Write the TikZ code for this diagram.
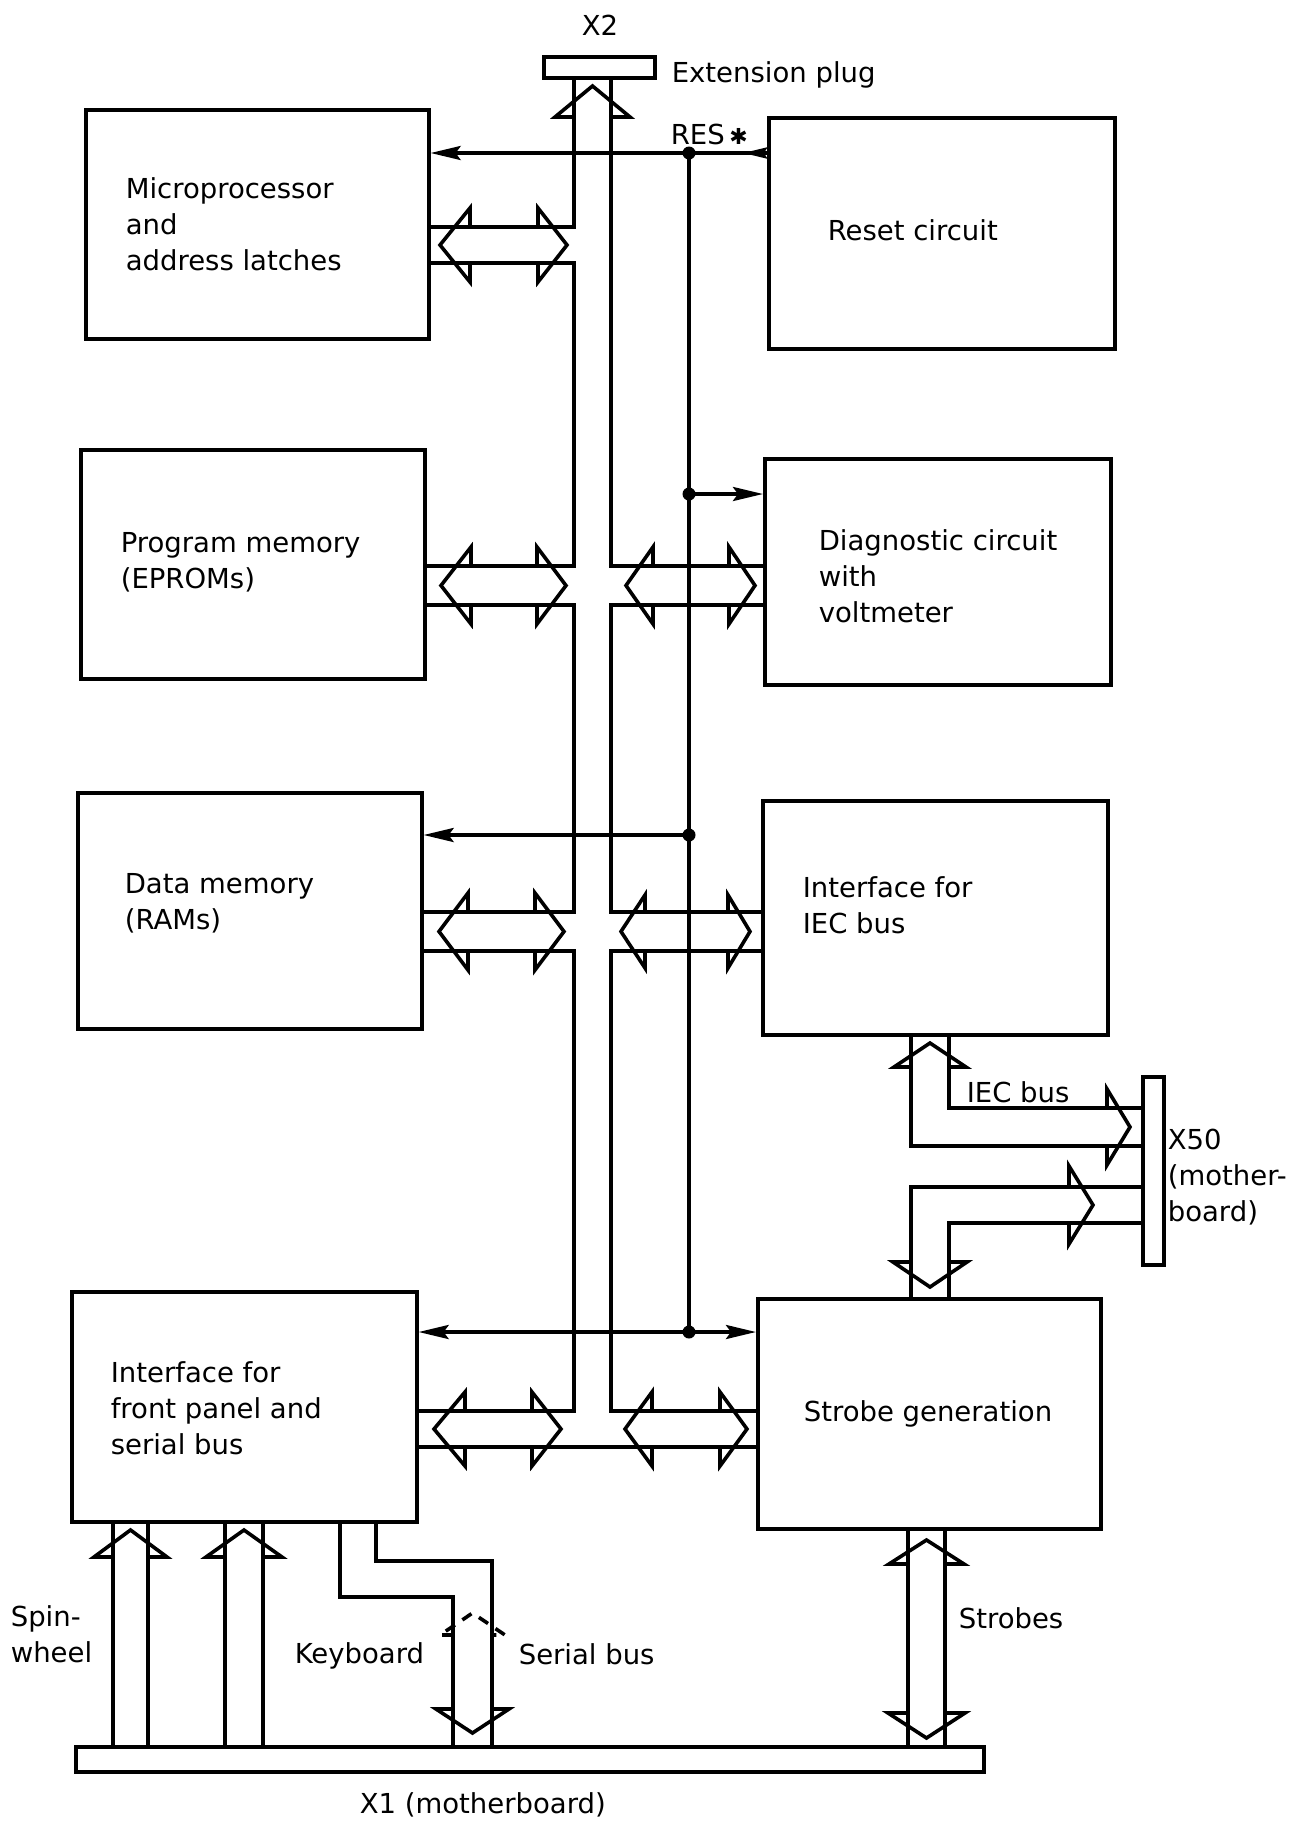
\documentclass[tikz,border=0pt]{standalone}
\usepackage{fontspec}
\setmainfont{DejaVu Sans}
\usetikzlibrary{arrows.meta}
\newcommand\lblfont{\fontsize{27.5}{36}\selectfont}
% horizontal bus arrow head: [opts]{tip x}{barb x}{y top}{y bottom}{overhang}
\newcommand\BusHeadH[6][]{\draw[#1] (#3,#4) -- (#3,{#4-#6}) -- (#2,{(#4+#5)/2}) -- (#3,{#5+#6}) -- (#3,#5);}
% vertical bus arrow head: [opts]{tip y}{barb y}{x left}{x right}{overhang}
\newcommand\BusHeadV[6][]{\draw[#1] (#4,#3) -- ({#4-#6},#3) -- ({(#4+#5)/2},#2) -- ({#5+#6},#3) -- (#5,#3);}
\begin{document}
\begin{tikzpicture}[x=1pt,y=-1pt,line width=3.6pt,
  blk/.style={draw, rectangle, line width=3.6pt, inner sep=0pt, anchor=north west},
  txt/.style={font=\lblfont, inner sep=0pt, align=left},
  dotn/.style={circle, fill, inner sep=0pt, minimum size=13pt},
  sig/.style={-{Stealth[length=30pt,width=14pt,inset=5pt]}}]
\useasboundingbox[fill=white] (0,0) rectangle (1302,1832);

% ---------- blocks ----------
\node[blk, minimum width=343pt, minimum height=229pt] (mp)     at (84,108)  {};
\node[blk, minimum width=346pt, minimum height=231pt] (reset)  at (767,116) {};
\node[blk, minimum width=344pt, minimum height=229pt] (prog)   at (79,448)  {};
\node[blk, minimum width=346pt, minimum height=226pt] (diag)   at (763,457) {};
\node[blk, minimum width=344pt, minimum height=236pt] (data)   at (76,791)  {};
\node[blk, minimum width=345pt, minimum height=234pt] (iec)    at (761,799) {};
\node[blk, minimum width=345pt, minimum height=230pt] (front)  at (70,1290) {};
\node[blk, minimum width=343pt, minimum height=230pt] (strobe) at (756,1297) {};
% connectors (bars)
\node[blk, minimum width=111pt, minimum height=21pt]  (x2)  at (542,55)   {};
\node[blk, minimum width=21pt,  minimum height=188pt] (x50) at (1141,1075) {};
\node[blk, minimum width=908pt, minimum height=25pt]  (x1)  at (74,1745)  {};

% ---------- block texts ----------
\node[txt, anchor=west] (mpt)     at ([xshift=40pt]mp.west)     {Microprocessor\\and\\address latches};
\node[txt, anchor=west] (resett)  at ([xshift=59pt,yshift=3pt]reset.west)  {Reset circuit};
\node[txt, anchor=west] (progt)   at ([xshift=40pt,yshift=2pt]prog.west)   {Program memory\\(EPROMs)};
\node[txt, anchor=west] (diagt)   at ([xshift=54pt,yshift=-4pt]diag.west)   {Diagnostic circuit\\with\\voltmeter};
\node[txt, anchor=west] (datat)   at ([xshift=47pt,yshift=8pt]data.west)   {Data memory\\(RAMs)};
\node[txt, anchor=west] (iect)    at ([xshift=40pt,yshift=13pt]iec.west)    {Interface for\\IEC bus};
\node[txt, anchor=west] (frontt)  at ([xshift=39pt,yshift=-1pt]front.west)  {Interface for\\front panel and\\serial bus};
\node[txt, anchor=west] (strobet) at ([xshift=46pt]strobe.west) {Strobe generation};

% ---------- other labels ----------
\node[txt, anchor=base west] (x2l)   at (580,35)   {X2};
\node[txt, anchor=base west] (extl)  at (670,82)   {Extension plug};
\node[txt, anchor=base west] (resl)  at (669,144)  {RES\,{\fontsize{22}{22}\selectfont ✱}};
\node[txt, anchor=base west] (iecl)  at (965,1102) {IEC bus};
\node[txt, anchor=west]      (x50l)  at (1166,1177) {X50\\(mother-\\board)};
\node[txt, anchor=west]      (spinl) at (9,1634)   {Spin-\\wheel};
\node[txt, anchor=base west] (keyl)  at (293,1663) {Keyboard};
\node[txt, anchor=base west] (serl)  at (517,1664) {Serial bus};
\node[txt, anchor=base west] (strl)  at (957,1628) {Strobes};
\node[txt, anchor=base west] (x1l)   at (358,1813) {X1 (motherboard)};

% ---------- main bus ----------
\coordinate (BL) at (574,0);
\coordinate (BR) at (611,0);
\coordinate (ya) at (0,227);  \coordinate (yb) at (0,263);
\coordinate (yc) at (0,566);  \coordinate (yd) at (0,605);
\coordinate (ye) at (0,912);  \coordinate (yf) at (0,951);
\coordinate (yg) at (0,1411); \coordinate (yh) at (0,1447);

\draw (BL |- x2.south) -- (BL |- ya) -- (mp.east |- ya);
\draw (mp.east |- yb) -- (BL |- yb) -- (BL |- yc) -- (prog.east |- yc);
\draw (prog.east |- yd) -- (BL |- yd) -- (BL |- ye) -- (data.east |- ye);
\draw (data.east |- yf) -- (BL |- yf) -- (BL |- yg) -- (front.east |- yg);
\draw (BR |- x2.south) -- (BR |- yc) -- (diag.west |- yc);
\draw (diag.west |- yd) -- (BR |- yd) -- (BR |- ye) -- (iec.west |- ye);
\draw (iec.west |- yf) -- (BR |- yf) -- (BR |- yg) -- (strobe.west |- yg);
\draw (front.east |- yh) -- (strobe.west |- yh);

% bus arrow heads
\BusHeadV{86}{117}{574}{611}{19}
\BusHeadH{440}{470}{227}{263}{19}
\BusHeadH{567}{538}{227}{263}{19}
\BusHeadH{441}{471}{566}{605}{19}
\BusHeadH{566}{537}{566}{605}{19}
\BusHeadH{626}{653}{566}{605}{19}
\BusHeadH{755}{729}{566}{605}{19}
\BusHeadH{439}{468}{912}{951}{19}
\BusHeadH{564}{535}{912}{951}{19}
\BusHeadH{621}{645}{912}{951}{17}
\BusHeadH{750}{728}{912}{951}{17}
\BusHeadH{434}{465}{1411}{1447}{19}
\BusHeadH{561}{532}{1411}{1447}{19}
\BusHeadH{625}{652}{1411}{1447}{19}
\BusHeadH{747}{720}{1411}{1447}{19}

% ---------- RES* line ----------
\node[dotn] (d1) at (689,153) {};
\node[dotn] (d2) at (689,494) {};
\node[dotn] (d3) at (689,835) {};
\node[dotn] (d4) at (689,1332) {};
\draw (d1.center) -- (d4.center);
\draw[sig] (d1.center) -- (mp.east |- d1);
\draw (d1.center) -- (reset.west |- d1);
\draw[-{Stealth[length=24pt,width=11pt,inset=3pt]}] (reset.west |- d1) -- ([xshift=-24pt]reset.west |- d1);
\draw[sig] (d2.center) -- (diag.west |- d2);
\draw[sig] (d3.center) -- (data.east |- d3);
\draw[sig] (d4.center) -- (front.east |- d4);
\draw[sig] (d4.center) -- (strobe.west |- d4);

% ---------- IEC bus / strobes to X50 ----------
\coordinate (ca) at (911,0);
\coordinate (cb) at (949,0);
\coordinate (yi) at (0,1108); \coordinate (yj) at (0,1146);
\coordinate (yk) at (0,1187); \coordinate (yl) at (0,1223);
\draw (ca |- iec.south) -- (ca |- yj) -- (x50.west |- yj);
\draw (cb |- iec.south) -- (cb |- yi) -- (x50.west |- yi);
\draw (ca |- strobe.north) -- (ca |- yk) -- (x50.west |- yk);
\draw (cb |- strobe.north) -- (cb |- yl) -- (x50.west |- yl);
\BusHeadV{1043}{1067}{911}{949}{17}
\BusHeadH{1130}{1107}{1108}{1146}{19}
\BusHeadH{1093}{1069}{1187}{1223}{21}
\BusHeadV{1287}{1262}{911}{949}{18}

% ---------- bottom buses to X1 ----------
\coordinate (sa) at (113,0); \coordinate (sb) at (148,0);
\coordinate (sc) at (225,0); \coordinate (sd) at (263,0);
\draw (sa |- x1.north) -- (sa |- front.south);
\draw (sb |- x1.north) -- (sb |- front.south);
\draw (sc |- x1.north) -- (sc |- front.south);
\draw (sd |- x1.north) -- (sd |- front.south);
\BusHeadV{1530}{1557}{113}{148}{19}
\BusHeadV{1530}{1557}{225}{263}{19}

\coordinate (ka) at (340,0); \coordinate (kb) at (376,0);
\coordinate (kc) at (453,0); \coordinate (kd) at (492,0);
\coordinate (ym) at (0,1561); \coordinate (yn) at (0,1597);
\draw (ka |- front.south) -- (ka |- yn) -- (kc |- yn) -- (kc |- x1.north);
\draw (kb |- front.south) -- (kb |- ym) -- (kd |- ym) -- (kd |- x1.north);
\BusHeadV[dash pattern=on 11pt off 9pt]{1613}{1635}{453}{492}{13}
\BusHeadV{1733}{1709}{453}{492}{17}

\coordinate (ta) at (908,0); \coordinate (tb) at (945,0);
\draw (ta |- strobe.south) -- (ta |- x1.north);
\draw (tb |- strobe.south) -- (tb |- x1.north);
\BusHeadV{1540}{1564}{908}{945}{19}
\BusHeadV{1738}{1713}{908}{945}{20}
\end{tikzpicture}
\end{document}
